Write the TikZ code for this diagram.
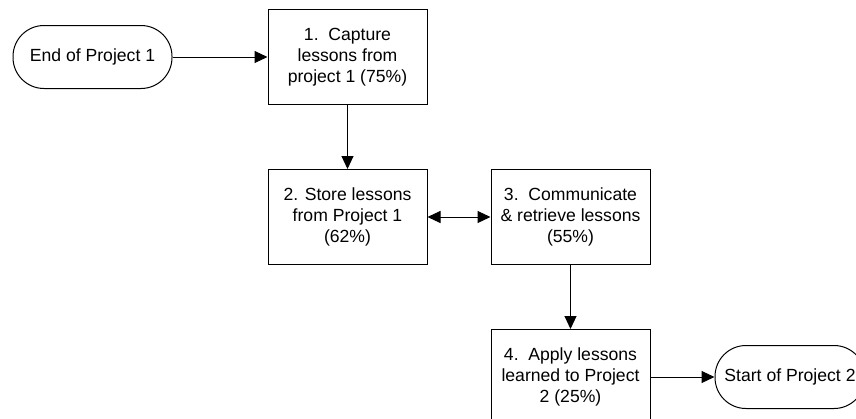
\documentclass[tikz,border=0pt]{standalone}
\usepackage{fontspec}
\setmainfont{Liberation Sans}
\usetikzlibrary{positioning,arrows.meta}

\begin{document}
\begin{tikzpicture}[>={Triangle[length=13pt,width=12pt]},line width=1pt,x=1pt,y=1pt,
    font=\fontsize{17.6}{21}\selectfont]
  \tikzstyle{terminal}=[draw=black,rectangle,rounded corners=31pt,
    minimum width=159pt,minimum height=63pt,inner sep=0pt]
  \tikzstyle{task}=[draw=black,rectangle,align=center,
    minimum width=159pt,minimum height=95pt,inner sep=2pt]

  \useasboundingbox (0,0) rectangle (856,-418);

  %--- Ends ---
  \node[terminal] (end1) at (92.5,-57) {End of Project 1};

  %--- Steps ---
  \node[task] (t1) [right=95pt of end1] {1.\ \ Capture\\lessons from\\project 1 (75\%)};
  \node[task] (t2) [below=64pt of t1] {2. Store lessons\\from Project 1\\(62\%)};
  \node[task] (t3) [right=63pt of t2] {3.\ \ Communicate\\\& retrieve lessons\\(55\%)};
  \node[task] (t4) [below=64pt of t3] {4.\ \ Apply lessons\\learned to Project\\2 (25\%)};

  \node[terminal, minimum width=150pt] (start2) [right=64pt of t4] {Start of Project 2};

  %--- Flow ---
  \path[->]
    (end1) edge (t1)
    (t1) edge (t2)
    (t2) edge[<->] (t3)
    (t3) edge (t4)
    (t4) edge (start2);
\end{tikzpicture}
\end{document}
